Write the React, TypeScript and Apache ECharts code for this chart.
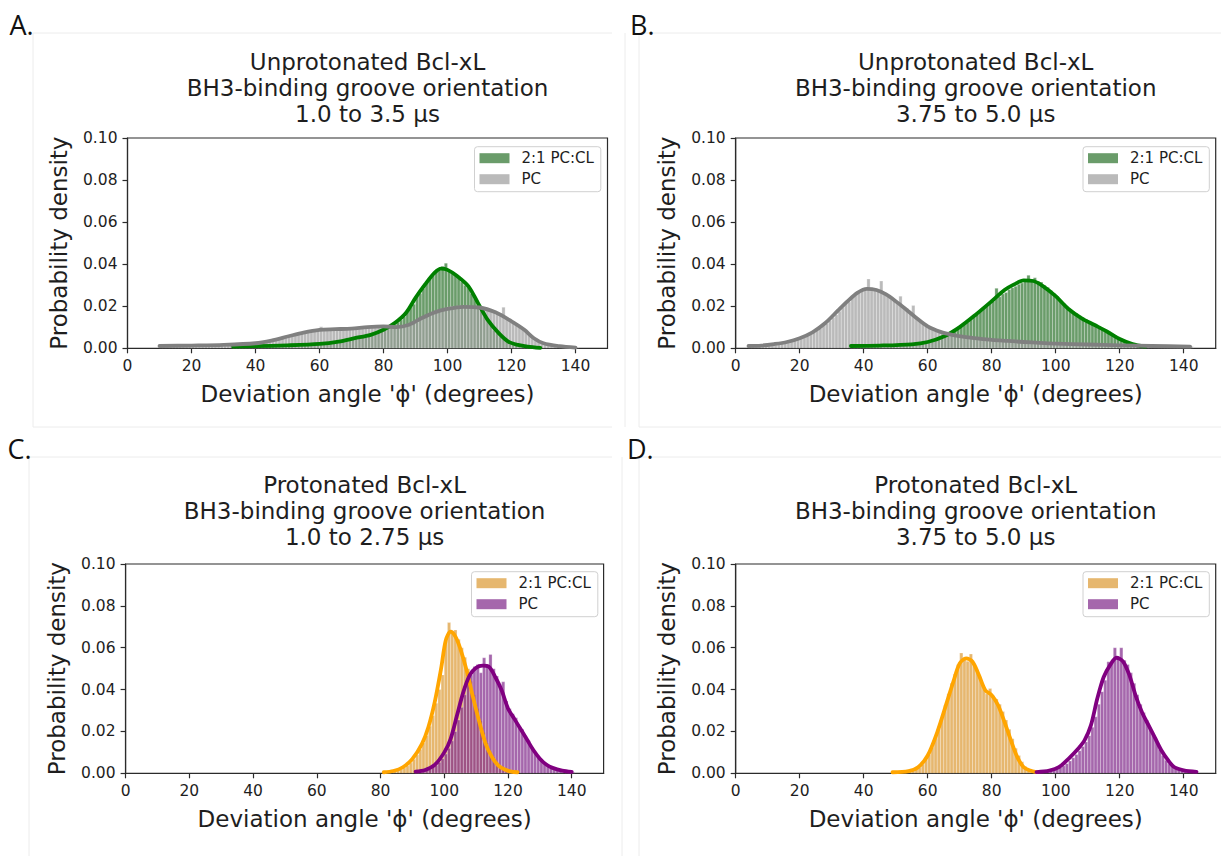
import React, { useEffect, useRef } from "react";
import * as echarts from "echarts";

// ---------- text ----------
const LETTERS = ["A.", "B.", "C.", "D."];
const TITLES = [
  "Unprotonated Bcl-xL\nBH3-binding groove orientation\n1.0 to 3.5 μs",
  "Unprotonated Bcl-xL\nBH3-binding groove orientation\n3.75 to 5.0 μs",
  "Protonated Bcl-xL\nBH3-binding groove orientation\n1.0 to 2.75 μs",
  "Protonated Bcl-xL\nBH3-binding groove orientation\n3.75 to 5.0 μs",
];
const X_LABEL = "Deviation angle 'ϕ' (degrees)";
const Y_LABEL = "Probability density";
const NAME_CL = "2:1 PC:CL";
const NAME_PC = "PC";
const X_TICKS = [0, 20, 40, 60, 80, 100, 120, 140];
const X_MIN = 0;
const X_MAX = 150;
const Y_MIN = 0;
const Y_MAX = 0.1;
const Y_STEP = 0.02;

// ---------- data (densities in units of 0.001) ----------
const BIN_WIDTH = 1;

// Panel A
const aClStart = 33;
const aClHist = [
  0.6, 0.7, 0.7, 0.8, 0.8, 0.9, 0.9,
  1.0, 1.0, 1.1, 1.0, 1.2, 1.2, 1.3, 1.2, 1.3, 1.4,
  1.4, 1.5, 1.5, 1.6, 1.7, 1.7, 1.8, 1.9, 2.0, 2.0,
  2.2, 2.3, 2.5, 2.6, 2.8, 3.0, 3.3, 3.5, 3.8, 4.2,
  4.5, 4.9, 5.1, 5.4, 5.7, 6.1, 6.3, 6.9, 7.4, 8.0,
  8.8, 9.5, 10.6, 11.3, 12.4, 13.5, 15.0, 17.2, 19.5, 21.0,
  24.5, 26.0, 28.5, 31.0, 33.0, 34.5, 36.5, 37.0, 39.0, 40.5,
  37.0, 36.0, 35.0, 33.5, 31.5, 30.0, 29.0, 26.0, 24.0, 21.0,
  18.5, 15.0, 13.0, 11.0, 8.5, 7.0, 5.5, 4.3, 3.3, 2.7,
  2.0, 1.6, 1.3, 1.0, 0.8, 0.6, 0.5, 0.4, 0.3,
];
const aPcStart = 10;
const aPcHist = [
  0.9, 1.0, 1.1, 1.0, 1.2, 1.1, 1.2, 1.3, 1.2, 1.3,
  1.2, 1.3, 1.4, 1.3, 1.4, 1.5, 1.4, 1.6, 1.5, 1.6,
  1.6, 1.7, 1.8, 1.7, 1.9, 2.0, 2.0, 2.2, 2.3, 2.4,
  2.5, 2.7, 3.0, 3.2, 3.5, 3.8, 4.2, 4.6, 5.0, 5.3,
  5.7, 6.0, 6.4, 6.9, 7.2, 7.5, 7.9, 8.3, 8.6, 8.5,
  10.2, 8.9, 9.0, 8.8, 9.2, 9.1, 9.3, 9.0, 9.4, 9.5,
  9.3, 9.6, 9.8, 9.5, 10.0, 10.3, 9.9, 10.2, 10.5, 10.4,
  10.3, 10.6, 10.2, 10.0, 9.8, 10.1, 10.4, 10.8, 11.0, 11.8,
  12.5, 13.6, 14.5, 15.3, 16.0, 16.8, 17.5, 18.0, 18.6, 19.0,
  19.5, 19.8, 19.2, 20.0, 19.6, 20.2, 19.9, 19.5, 19.3, 19.8,
  19.0, 18.8, 18.5, 17.9, 17.3, 16.8, 16.0, 19.5, 14.5, 13.6,
  12.8, 11.5, 10.4, 9.3, 8.0, 7.0, 5.8, 4.8, 3.9, 3.0,
  2.4, 1.9, 1.6, 1.2, 1.0, 0.8, 0.7, 0.5, 0.4, 0.3, 0.3,
];
const aClKdeX = [33, 40, 50, 60, 66, 71, 76, 80, 83.5, 87, 90, 93, 96, 98, 100, 103, 106.5, 109.5, 112.5, 116, 119, 122, 125, 129];
const aClKdeY = [0.8, 1.0, 1.4, 2.1, 3.2, 4.8, 6.4, 8.8, 12, 16.8, 24, 30.4, 36, 37.9, 37.3, 34.4, 29.6, 21.6, 13.6, 7.2, 3.2, 1.6, 0.8, 0.2];
const aPcKdeX = [10, 20, 30, 40, 45, 50, 55, 60, 65, 70, 75, 80, 84, 88, 92, 96, 100, 105, 110, 115, 120, 124, 127, 130, 135, 140];
const aPcKdeY = [1.1, 1.3, 1.6, 2.4, 3.7, 5.6, 7.5, 8.8, 9.1, 9.4, 10.1, 10.4, 10.1, 11.2, 14.4, 17.1, 18.7, 19.7, 19.4, 17.1, 12.8, 8.8, 4.8, 2.4, 1.0, 0.3];

// Panel B
const bClStart = 36;
const bClHist = [
  0.9, 1.0, 1.0, 1.1,
  1.1, 1.1, 1.2, 1.2, 1.2, 1.3, 1.3, 1.3, 1.4, 1.4,
  1.5, 1.5, 1.6, 1.7, 1.7, 1.8, 2.0, 2.2, 2.4, 2.7,
  3.0, 3.4, 3.9, 4.3, 4.9, 5.6, 6.4, 7.3, 8.2, 9.1,
  10.1, 11.2, 12.3, 13.6, 14.9, 16.0, 17.5, 18.9, 20.2, 21.5,
  22.4, 28.5, 24.5, 25.8, 26.5, 28.0, 28.8, 29.5, 30.5, 31.0,
  32.0, 34.7, 32.5, 33.5, 32.0, 31.5, 30.0, 29.0, 27.5, 26.0,
  24.8, 23.0, 21.5, 20.0, 18.7, 17.5, 16.5, 15.5, 14.4, 13.8,
  12.6, 11.8, 11.2, 10.4, 9.6, 8.8, 8.0, 7.2, 6.3, 5.5,
  4.6, 3.9, 3.2, 2.6, 2.0, 1.5, 1.1, 0.8,
];
const bPcStart = 4;
const bPcHist = [
  0.8, 0.9, 1.0, 1.1, 1.2, 1.3,
  1.5, 1.6, 1.9, 2.1, 2.4, 2.6, 2.9, 3.3, 3.6, 4.1,
  4.6, 5.2, 5.8, 6.5, 7.4, 8.3, 9.5, 10.8, 11.8, 13.2,
  14.6, 16.0, 17.6, 19.5, 21.4, 22.0, 24.0, 25.0, 26.8, 27.0,
  28.5, 33.0, 28.0, 27.6, 27.0, 32.0, 26.0, 24.5, 24.0, 23.5,
  22.0, 24.8, 19.5, 19.0, 17.0, 20.3, 15.0, 12.8, 12.0, 11.2,
  10.0, 9.6, 9.0, 8.2, 7.4, 7.4, 7.0, 6.6, 6.2, 5.8,
  5.7, 5.4, 5.2, 5.1, 4.9, 4.8, 4.6, 4.5, 4.3, 4.2,
  4.0, 3.9, 3.8, 3.7, 3.6, 3.5, 3.4, 3.3, 3.2, 3.1,
  3.0, 3.0, 2.9, 2.8, 2.7, 2.6, 2.6, 2.5, 2.4, 2.3,
  2.2, 2.2, 2.1, 2.1, 2.0, 2.0, 1.9, 1.9, 1.8, 1.8,
  1.8, 1.7, 1.7, 1.6, 1.6, 1.6, 1.5, 1.5, 1.5, 1.4,
  1.4, 1.4, 1.3, 1.3, 1.3, 1.2, 1.2, 1.2, 1.1, 1.1,
  1.1, 1.0, 1.0, 1.0, 1.0, 0.9, 0.9, 0.9, 0.9, 0.8, 0.8, 0.8, 0.8,
];
const bClKdeX = [36, 45, 55, 60, 65, 70, 75, 80, 84, 87, 90, 93, 96, 100, 104, 108, 112, 116, 120, 124, 128];
const bClKdeY = [1.1, 1.3, 1.9, 3.0, 5.6, 10.1, 16, 22.4, 27.7, 30.4, 32.3, 32, 29.6, 24.8, 18.7, 14.4, 11.2, 8, 4.4, 2.0, 0.8];
const bPcKdeX = [4, 8, 12, 16, 20, 24, 28, 32, 35, 38, 41, 44, 47, 50, 53, 56, 60, 64, 68, 72, 76, 80, 85, 90, 95, 100, 110, 120, 130, 142];
const bPcKdeY = [1.1, 1.3, 2.0, 3.0, 4.8, 7.6, 12.0, 18.0, 22.4, 26.4, 28.3, 27.7, 25.6, 22.4, 18.8, 15.0, 10.4, 7.8, 6.3, 5.3, 4.6, 4.0, 3.5, 3.0, 2.6, 2.2, 1.8, 1.4, 1.1, 0.8];

// Panel C
const cClStart = 81;
const cClHist = [
  0.3, 0.5, 0.7, 1.0, 1.4, 1.9, 2.6, 3.6, 5.0,
  6.7, 8.8, 11.5, 14.5, 18.0, 22.5, 27.5, 33.5, 40.0, 47.0,
  63.0, 72.0, 68.0, 68.5, 64.0, 60.0, 55.5, 50.0, 44.0, 37.5,
  31.0, 25.0, 19.5, 14.5, 10.5, 7.8, 5.4, 3.6, 2.4, 1.6, 1.0, 0.7, 0.4,
];
const cPcStart = 91;
const cPcHist = [
  0.5, 0.8, 1.1, 1.5, 2.1, 2.9, 3.9, 5.3, 7.0,
  9.2, 12.0, 15.5, 20.0, 25.5, 31.5, 37.5, 43.0, 47.0, 51.0,
  52.0, 48.0, 55.2, 51.0, 56.8, 50.0, 46.5, 42.5, 43.7, 34.5,
  31.0, 28.5, 26.5, 22.5, 21.0, 18.0, 15.5, 12.5, 10.0, 8.0,
  6.2, 4.8, 3.7, 2.9, 2.2, 1.7, 1.3, 1.0, 0.8, 0.6, 0.5,
];
const cClKdeX = [81, 84, 87, 90, 93, 95, 97, 99, 100.5, 102, 103.5, 105, 107, 109, 111, 113, 115, 117, 119, 121, 123];
const cClKdeY = [0.5, 1.1, 2.9, 6.9, 14.1, 22, 34, 50, 63.7, 67.7, 65.3, 59.7, 49.3, 36.5, 24.5, 14.1, 7.7, 3.7, 1.8, 0.8, 0.5];
const cPcKdeX = [91, 94, 97, 100, 102, 104, 106, 108, 110, 112, 114, 116, 118, 120, 122, 124, 126, 128, 130, 132, 134, 137, 140];
const cPcKdeY = [0.8, 1.6, 4, 10, 16.5, 27.7, 38.9, 46.9, 50.4, 51.4, 50.9, 46, 39.7, 31, 26, 21, 16, 11, 7, 4.2, 2.6, 1.3, 0.7];

// Panel D
const dClStart = 49;
const dClHist = [
  0.3, 0.4, 0.5, 0.6, 0.7, 0.9, 1.2, 1.8, 2.8, 4.3, 6.5,
  9.0, 12.5, 16.5, 21.0, 26.5, 32.5, 38.0, 43.0, 47.5, 52.0,
  57.5, 55.0, 53.5, 57.0, 52.0, 49.5, 45.0, 41.0, 38.0, 40.5,
  37.0, 35.5, 33.0, 29.5, 25.5, 21.0, 16.5, 12.0, 8.5, 5.5, 3.3, 1.9, 1.1, 0.6,
];
const dPcStart = 94;
const dPcHist = [
  0.4, 0.6, 0.8, 1.0, 1.3, 1.7,
  2.2, 2.8, 3.6, 4.6, 5.9, 7.4, 9.0, 10.8, 12.8, 15.0,
  18.0, 22.0, 27.0, 33.0, 39.0, 44.5, 53.3, 53.0, 60.0, 55.0,
  60.0, 54.0, 52.0, 48.0, 43.0, 37.5, 33.0, 29.0, 25.5, 21.5,
  18.5, 15.0, 11.5, 8.5, 6.2, 4.5, 3.2, 2.3, 1.7, 1.3, 1.0, 0.8, 0.6, 0.5,
];
const dClKdeX = [49, 54, 57, 60, 63, 66, 68, 70, 72, 74, 76, 78, 80, 82, 84, 86, 88, 90, 92, 94];
const dClKdeY = [0.5, 1, 2.9, 8.5, 19.7, 34, 43.7, 52.5, 54.9, 53.3, 46.9, 39.7, 37.3, 32.5, 24.5, 15.7, 7.7, 2.9, 1.3, 0.6];
const dPcKdeX = [94, 98, 101, 104, 107, 109, 111, 113, 115, 117, 119, 121, 123, 125, 127, 129, 131, 133, 135, 137, 140, 144];
const dPcKdeY = [0.6, 1.3, 2.9, 6.9, 11.7, 15.7, 22.9, 35.7, 46, 51.7, 55.2, 53.5, 47, 37, 29, 23, 17, 11, 6.5, 3, 1.4, 0.7];

// ---------- styling / layout ----------
const FONT = "'DejaVu Sans', sans-serif";
const TEXT_COLOR = "#1e1e1e";
const AXIS_COLOR = "#2b2b2b";

const GREEN = "#008000";
const GRAY = "#808080";
const ORANGE = "#ffa500";
const PURPLE = "#800080";
const GREEN_FILL = "rgba(48,118,48,0.72)";
const GRAY_FILL = "rgba(160,160,160,0.72)";
const ORANGE_FILL = "rgba(220,155,55,0.72)";
const PURPLE_FILL = "rgba(130,45,140,0.72)";

const PANELS = [
  { left: 127.5, top: 138, width: 480, height: 210.3, cx: 367.5, titleTop: 48.5, legLeft: 474.5, legTop: 146.7, letterX: 9.5, letterY: 24,
    cl: { start: aClStart, hist: aClHist, kx: aClKdeX, ky: aClKdeY, line: GREEN, fill: GREEN_FILL },
    pc: { start: aPcStart, hist: aPcHist, kx: aPcKdeX, ky: aPcKdeY, line: GRAY, fill: GRAY_FILL } },
  { left: 735.7, top: 138, width: 480, height: 210.3, cx: 975.7, titleTop: 48.5, legLeft: 1083, legTop: 146.7, letterX: 630, letterY: 24,
    cl: { start: bClStart, hist: bClHist, kx: bClKdeX, ky: bClKdeY, line: GREEN, fill: GREEN_FILL },
    pc: { start: bPcStart, hist: bPcHist, kx: bPcKdeX, ky: bPcKdeY, line: GRAY, fill: GRAY_FILL } },
  { left: 125.6, top: 564, width: 478, height: 209.3, cx: 364.6, titleTop: 472, legLeft: 471.5, legTop: 571.7, letterX: 7.5, letterY: 448,
    cl: { start: cClStart, hist: cClHist, kx: cClKdeX, ky: cClKdeY, line: ORANGE, fill: ORANGE_FILL },
    pc: { start: cPcStart, hist: cPcHist, kx: cPcKdeX, ky: cPcKdeY, line: PURPLE, fill: PURPLE_FILL } },
  { left: 735.7, top: 564, width: 480, height: 209.3, cx: 975.7, titleTop: 472, legLeft: 1083, legTop: 571.7, letterX: 627, letterY: 448,
    cl: { start: dClStart, hist: dClHist, kx: dClKdeX, ky: dClKdeY, line: ORANGE, fill: ORANGE_FILL },
    pc: { start: dPcStart, hist: dPcHist, kx: dPcKdeX, ky: dPcKdeY, line: PURPLE, fill: PURPLE_FILL } },
];

function histData(start: number, vals: number[]) {
  return vals.map((v, i) => [start + i * BIN_WIDTH, start + (i + 1) * BIN_WIDTH, v / 1000]);
}
function kdeData(xs: number[], ys: number[]) {
  return xs.map((x, i) => [x, ys[i] / 1000]);
}

function histSeries(name: string, idx: number, start: number, vals: number[], fill: string, z: number) {
  return {
    type: "custom",
    name,
    xAxisIndex: idx,
    yAxisIndex: idx,
    data: histData(start, vals),
    encode: { x: [0, 1], y: 2 },
    clip: true,
    silent: true,
    z,
    itemStyle: { color: fill },
    renderItem: (params: any, api: any) => {
      const a = api.coord([api.value(0), 0]);
      const b = api.coord([api.value(1), api.value(2)]);
      return {
        type: "rect",
        shape: { x: a[0], y: b[1], width: b[0] - a[0], height: a[1] - b[1] },
        style: { fill, stroke: "rgba(255,255,255,0.45)", lineWidth: 0.6, blend: "multiply" },
      };
    },
  };
}

function kdeSeries(name: string, idx: number, xs: number[], ys: number[], color: string, z: number) {
  return {
    type: "line",
    name,
    xAxisIndex: idx,
    yAxisIndex: idx,
    data: kdeData(xs, ys),
    smooth: 0.3,
    symbol: "none",
    showSymbol: false,
    silent: true,
    z,
    itemStyle: { color },
    lineStyle: { color, width: 3.8, cap: "round", join: "round" },
  };
}

function buildOption() {
  const grid: any[] = [];
  const xAxis: any[] = [];
  const yAxis: any[] = [];
  const title: any[] = [];
  const legend: any[] = [];
  const series: any[] = [];
  const graphic: any[] = [];

  PANELS.forEach((p, i) => {
    grid.push({
      left: p.left, top: p.top, width: p.width, height: p.height,
      show: true, borderColor: AXIS_COLOR, borderWidth: 1.2, backgroundColor: "transparent",
    });
    xAxis.push({
      type: "value", gridIndex: i, min: X_MIN, max: X_MAX,
      name: X_LABEL, nameLocation: "middle", nameGap: 34,
      nameTextStyle: { fontSize: 23, fontFamily: FONT, color: TEXT_COLOR },
      axisLine: { show: true, lineStyle: { color: AXIS_COLOR, width: 1.2 } },
      axisTick: { show: true, length: 5, lineStyle: { color: AXIS_COLOR, width: 1.2 }, customValues: X_TICKS },
      axisLabel: { customValues: X_TICKS, margin: 10, fontSize: 15.5, fontFamily: FONT, color: TEXT_COLOR },
      splitLine: { show: false },
    });
    yAxis.push({
      type: "value", gridIndex: i, min: Y_MIN, max: Y_MAX, interval: Y_STEP,
      name: Y_LABEL, nameLocation: "middle", nameGap: 57,
      nameTextStyle: { fontSize: 23, fontFamily: FONT, color: TEXT_COLOR },
      axisLine: { show: true, lineStyle: { color: AXIS_COLOR, width: 1.2 } },
      axisTick: { show: true, length: 5, lineStyle: { color: AXIS_COLOR, width: 1.2 } },
      axisLabel: { margin: 10, fontSize: 15.5, fontFamily: FONT, color: TEXT_COLOR, formatter: (v: number) => v.toFixed(2) },
      splitLine: { show: false },
    });
    title.push({
      text: TITLES[i], left: p.cx, top: p.titleTop, textAlign: "center", padding: 0,
      textStyle: { fontSize: 23, lineHeight: 26, fontWeight: "normal", fontFamily: FONT, color: TEXT_COLOR },
    });
    legend.push({
      left: p.legLeft, top: p.legTop, orient: "vertical", selectedMode: false,
      data: [
        { name: NAME_CL, icon: "rect", itemStyle: { color: p.cl.fill, borderWidth: 0 } },
        { name: NAME_PC, icon: "rect", itemStyle: { color: p.pc.fill, borderWidth: 0 } },
      ],
      itemWidth: 30, itemHeight: 10, itemGap: 6,
      padding: [4, 7, 5, 5],
      backgroundColor: "rgba(255,255,255,0.8)", borderColor: "#d0d0d0", borderWidth: 1, borderRadius: 3,
      textStyle: { fontSize: 15, fontFamily: FONT, color: TEXT_COLOR, padding: [0, 0, 0, 7] },
    });
    series.push(histSeries(NAME_CL, i, p.cl.start, p.cl.hist, p.cl.fill, 2));
    series.push(histSeries(NAME_PC, i, p.pc.start, p.pc.hist, p.pc.fill, 3));
    series.push(kdeSeries(NAME_CL, i, p.cl.kx, p.cl.ky, p.cl.line, 4));
    series.push(kdeSeries(NAME_PC, i, p.pc.kx, p.pc.ky, p.pc.line, 5));
    graphic.push({
      type: "text", x: p.letterX, y: p.letterY,
      style: { text: LETTERS[i], fontSize: 27, fontFamily: "'Open Sans', 'Noto Sans', sans-serif", fill: "#111", verticalAlign: "middle" },
    });
  });

  const frame = "#ececec";
  const frameLines = [
    [33, 33, 612, 33], [33, 33, 33, 427], [33, 427, 612, 427],
    [625, 33, 625, 427], [639, 33, 1221, 33], [639, 33, 639, 427], [639, 427, 1221, 427],
    [29, 457, 612, 457], [29, 457, 29, 856],
    [622, 457, 622, 856], [639, 457, 1221, 457], [639, 457, 639, 856],
  ];
  frameLines.forEach((l) => {
    graphic.push({ type: "line", z: -1, silent: true, shape: { x1: l[0], y1: l[1], x2: l[2], y2: l[3] }, style: { stroke: frame, lineWidth: 1 } });
  });

  return {
    animation: false,
    backgroundColor: "#ffffff",
    textStyle: { fontFamily: FONT },
    title, legend, grid, xAxis, yAxis, series, graphic,
  };
}

export default function App() {
  const ref = useRef<HTMLDivElement>(null);
  useEffect(() => {
    if (!ref.current) return;
    const chart = echarts.init(ref.current, undefined, { renderer: "svg" });
    chart.setOption(buildOption() as any);
    return () => chart.dispose();
  }, []);
  return <div ref={ref} style={{ position: "absolute", left: 0, top: 0, width: 1221, height: 856 }} />;
}
